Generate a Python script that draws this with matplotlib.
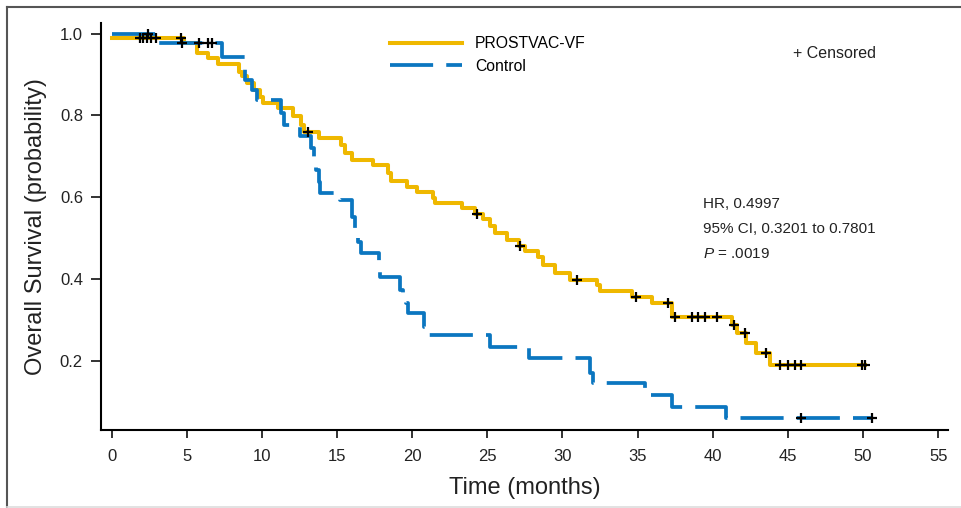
import numpy as np
import matplotlib.pyplot as plt
from matplotlib.lines import Line2D

plt.rcParams['font.family'] = ['Liberation Sans', 'DejaVu Sans']
plt.rcParams['mathtext.fontset'] = 'custom'
plt.rcParams['mathtext.rm'] = 'Liberation Sans'
plt.rcParams['mathtext.it'] = 'Liberation Sans:italic'

# PROSTVAC-VF arm: step times (months) and survival after each step
vac_t = [0, 4.8, 5.7, 6.4, 7.1, 8.45, 8.7, 9.0, 9.45, 9.9, 10.1, 11.1, 12.1, 12.6, 12.8,
         13.8, 15.3, 15.5, 16.0, 17.4, 18.4, 18.6, 19.65, 20.3, 21.4, 21.5, 23.3, 24.2, 24.7,
         25.2, 25.5, 26.3, 27.1, 27.5, 28.4, 28.7, 29.5, 30.5, 32.3, 32.5, 34.6, 35.95, 37.3,
         41.3, 41.6, 42.2, 42.9, 43.8, 50.1]
vac_s = [0.99, 0.976, 0.952, 0.94, 0.925, 0.905, 0.895, 0.878, 0.862, 0.845, 0.83, 0.818, 0.797,
         0.776, 0.76, 0.744, 0.727, 0.708, 0.69, 0.678, 0.659, 0.638, 0.625, 0.613, 0.598, 0.585,
         0.573, 0.559, 0.545, 0.53, 0.512, 0.495, 0.48, 0.467, 0.454, 0.434, 0.414, 0.397, 0.385,
         0.369, 0.355, 0.34, 0.307, 0.287, 0.267, 0.242, 0.218, 0.19, 0.19]
vac_cens = [1.9, 2.1, 2.35, 2.65, 2.95, 4.6, 13.1, 24.3, 27.2, 31.0, 34.9, 37.05, 37.5, 38.6,
            39.05, 39.5, 40.3, 41.4, 42.15, 43.55, 44.5, 45.0, 45.5, 45.9, 49.9, 50.1]

# Control arm
ctl_t = [0, 3.0, 7.36, 8.9, 9.35, 9.7, 11.3, 11.45, 12.55, 13.3, 13.5, 13.6, 13.8, 13.9, 15.2,
         16.0, 16.2, 16.4, 16.6, 17.8, 17.85, 19.2, 19.4, 19.6, 19.75, 20.8, 21.0, 25.2, 27.8,
         31.8, 32.0, 35.5, 37.3, 40.9, 50.6]
ctl_s = [1.0, 0.976, 0.943, 0.886, 0.862, 0.837, 0.805, 0.776, 0.75, 0.72, 0.69, 0.665, 0.637,
         0.61, 0.593, 0.55, 0.524, 0.49, 0.463, 0.44, 0.405, 0.373, 0.36, 0.34, 0.316, 0.282,
         0.263, 0.232, 0.206, 0.17, 0.145, 0.116, 0.087, 0.06, 0.06]
ctl_cens = [2.4, 4.7, 5.8, 6.4, 6.7, 45.9, 50.6]

xticks = list(range(0, 60, 5))
yticks = [0.2, 0.4, 0.6, 0.8, 1.0]


def level(t, s, times):
    idx = np.searchsorted(t, times, side='right') - 1
    return np.array(s)[idx]


fig = plt.figure(figsize=(9.62, 5.08), dpi=100)
ax = fig.add_axes([101 / 962, 1 - 430 / 508, 847 / 962, 406.7 / 508])

yellow = '#EFB800'
blue = '#0B76C0'
ax.step(vac_t, vac_s, where='post', color=yellow, lw=2.9, label='PROSTVAC-VF', zorder=2)
ax.step(ctl_t, ctl_s, where='post', color=blue, lw=2.7, linestyle=(0, (11.5, 3.5)),
        label='Control', zorder=3)
ax.plot(vac_cens, level(vac_t, vac_s, vac_cens), '+', color='black', ms=7.5, mew=1.6, zorder=4)
ax.plot(ctl_cens, level(ctl_t, ctl_s, ctl_cens), '+', color='black', ms=7.5, mew=1.6, zorder=4)

ax.set_xlim(-0.7, 55.65)
ax.set_ylim(0.03, 1.025)
ax.set_xticks(xticks)
ax.set_yticks(yticks)
ax.set_yticklabels([f'{v:.1f}' for v in yticks])

for side in ['top', 'right']:
    ax.spines[side].set_visible(False)
for side in ['left', 'bottom']:
    ax.spines[side].set_linewidth(1.5)
ax.tick_params(axis='x', direction='out', length=6, width=1.3, pad=8, labelsize=12, colors='#222222')
ax.tick_params(axis='y', direction='out', length=7, width=1.3, pad=6, labelsize=12, colors='#222222')

ax.set_xlabel('Time (months)', fontsize=17, labelpad=9, color='#222222')
ax.set_ylabel('Overall Survival (probability)', fontsize=17, labelpad=9, color='#222222')

ax.legend(loc='upper left', bbox_to_anchor=(390 / 962, 1 - 36 / 508), bbox_transform=fig.transFigure,
          frameon=False, fontsize=11.3, handlelength=4.6, handletextpad=0.8, labelspacing=0.5,
          borderpad=0, borderaxespad=0)

fig.text(793 / 962, 1 - 54 / 508, '+ Censored', fontsize=11.5, va='center', color='#222222')
fig.text(703 / 962, 1 - 204 / 508, 'HR, 0.4997', fontsize=11, va='center', color='#222222')
fig.text(703 / 962, 1 - 229 / 508, '95% CI, 0.3201 to 0.7801', fontsize=11, va='center', color='#222222')
fig.text(703 / 962, 1 - 254 / 508, '$P$ = .0019', fontsize=11, va='center', color='#222222')

# outer frame
fig.add_artist(Line2D([7.3 / 962, 7.3 / 962], [0, 1 - 6.7 / 508], transform=fig.transFigure,
                      color='#555555', lw=1.5))
fig.add_artist(Line2D([7.3 / 962, 1], [1 - 6.7 / 508, 1 - 6.7 / 508], transform=fig.transFigure,
                      color='#555555', lw=1.5))
fig.add_artist(Line2D([7.3 / 962, 1], [1.5 / 508, 1.5 / 508], transform=fig.transFigure,
                      color='#dddddd', lw=1.2))

fig.savefig('out.png', dpi=100)
